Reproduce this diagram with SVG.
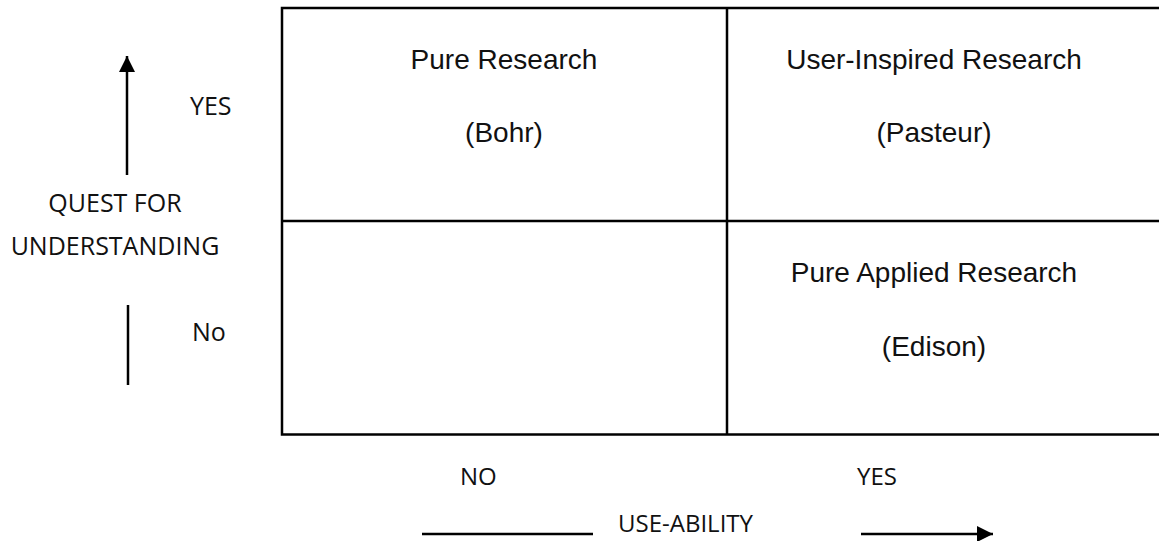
<svg xmlns="http://www.w3.org/2000/svg" width="1159" height="541" viewBox="0 0 1159 541">
  <style>
    .grid { fill: none; stroke: #000; stroke-width: 2.5; }
    .axis { fill: none; stroke: #000; stroke-width: 2.5; }
    .cell { font-family: "Liberation Sans", Arial, sans-serif; font-size: 28px; fill: #111; text-anchor: middle; }
    .lbl { font-family: "Open Sans", "Noto Sans", sans-serif; font-size: 24px; fill: #111; }
    .side { font-size: 25px; }
  </style>
  <defs>
    <marker id="head" viewBox="0 0 10 10" refX="10" refY="5" markerWidth="16" markerHeight="16" markerUnits="userSpaceOnUse" orient="auto">
      <path d="M0,0 L10,5 L0,10 Z" fill="#000"/>
    </marker>
  </defs>

  <!-- 2x2 quadrant grid -->
  <g id="grid">
    <rect class="grid" x="282" y="8" width="900" height="426.5"/>
    <line class="grid" x1="282" y1="221" x2="1182" y2="221"/>
    <line class="grid" x1="727" y1="8" x2="727" y2="434.5"/>
  </g>

  <g id="pure-research">
    <text class="cell" x="504" y="69">Pure Research</text>
    <text class="cell" x="504" y="142">(Bohr)</text>
  </g>
  <g id="user-inspired-research">
    <text class="cell" x="934" y="69">User-Inspired Research</text>
    <text class="cell" x="934" y="142">(Pasteur)</text>
  </g>
  <g id="pure-applied-research">
    <text class="cell" x="934" y="282">Pure Applied Research</text>
    <text class="cell" x="934" y="356">(Edison)</text>
  </g>

  <!-- axis labels -->
  <g id="quest-axis">
    <text class="lbl side" x="190" y="115">YES</text>
    <text class="lbl side" x="115" y="212" text-anchor="middle">QUEST FOR</text>
    <text class="lbl side" x="115" y="255" text-anchor="middle">UNDERSTANDING</text>
    <text class="lbl side" x="192" y="341">No</text>
  </g>
  <g id="use-axis">
    <text class="lbl" x="460" y="485">NO</text>
    <text class="lbl" x="857" y="485">YES</text>
    <text class="lbl" x="618" y="532">USE-ABILITY</text>
  </g>

  <!-- axis strokes -->
  <g id="connectors">
    <line class="axis" x1="127" y1="175" x2="127" y2="56" marker-end="url(#head)"/>
    <line class="axis" x1="128" y1="305" x2="128" y2="385"/>
    <line class="axis" x1="422" y1="534" x2="593" y2="534"/>
    <line class="axis" x1="861" y1="534" x2="993" y2="534" marker-end="url(#head)"/>
  </g>
</svg>
